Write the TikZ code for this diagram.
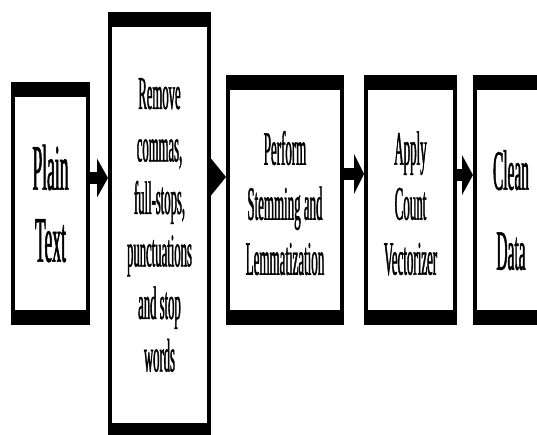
\documentclass[tikz,border=0pt]{standalone}
\usepackage{fontspec}
\newfontfamily\condfont[FakeStretch=0.27,FakeBold=0.8]{Liberation Serif}
\usetikzlibrary{positioning,arrows.meta}

\tikzset{
  stage/.style={rectangle,draw,line width=4pt,inner sep=0pt,align=center,
    path picture={
      \fill (path picture bounding box.north west) rectangle ([yshift=-13pt]path picture bounding box.north east);
      \fill (path picture bounding box.south west) rectangle ([yshift=13pt]path picture bounding box.south east);}},
  flow/.style={line width=12pt,-{Triangle[length=11pt,width=39pt,line width=0pt]}}
}

\begin{document}
\begin{tikzpicture}[x=1pt,y=-1pt]
  \useasboundingbox (0,0) rectangle (537,434);
  \node(plain)[stage,minimum width=75pt,minimum height=239pt,font=\condfont\fontsize{65pt}{72pt}\selectfont] at (50.5,203.5){Plain\\Text};
  \node(remove)[stage,right=18pt of plain,yshift=-21.5pt,minimum width=99pt,minimum height=422pt,font=\condfont\fontsize{47pt}{52.5pt}\selectfont]{Remove\\commas,\\full-stops,\\punctuations\\and stop\\words};
  \node(stem)[stage,right=15pt of remove,yshift=25pt,minimum width=114pt,minimum height=246pt,font=\condfont\fontsize{48pt}{55pt}\selectfont]{\rule{0pt}{40pt}Perform\\Stemming and\\Lemmatization};
  \node(count)[stage,right=20pt of stem,minimum width=89pt,minimum height=246pt,font=\condfont\fontsize{48pt}{55pt}\selectfont]{\rule{0pt}{40pt}Apply\\Count\\Vectorizer};
  \node(clean)[stage,right=16pt of count,minimum width=72pt,minimum height=246pt,font=\condfont\fontsize{57pt}{80pt}\selectfont]{\rule{0pt}{60pt}Clean\\Data};
\draw[flow]([yshift=25.5pt]plain.east)--([yshift=47pt]remove.west);
\draw[flow,-{Triangle[length=15pt,width=37pt,line width=0pt]}]([yshift=48pt]remove.east)--([yshift=23pt]stem.west);
\draw[flow,-{Triangle[length=10pt,width=40pt,line width=0pt]}]([yshift=26pt]stem.east)--([yshift=26pt]count.west);
\draw[flow,-{Triangle[length=11pt,width=40pt,line width=0pt]}]([yshift=25pt]count.east)--([yshift=25pt]clean.west);
\end{tikzpicture}
\end{document}
